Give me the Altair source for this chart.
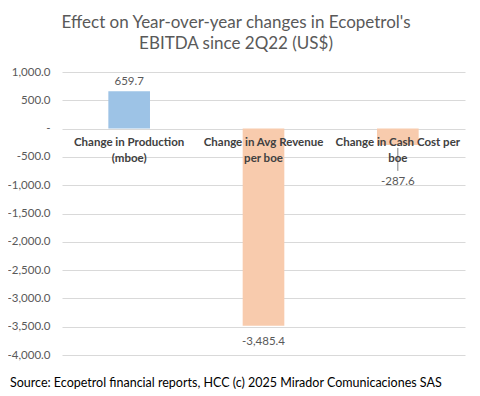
import altair as alt
import pandas as pd

categories = ["Change in Production\n(mboe)", "Change in Avg Revenue\nper boe", "Change in Cash Cost per\nboe"]
values = [659.7, -3485.4, -287.6]
y_ticks = [1000, 500, 0, -500, -1000, -1500, -2000, -2500, -3000, -3500, -4000]
title_lines = ["Effect on Year-over-year changes in Ecopetrol's", "EBITDA since 2Q22 (US$)"]
footer = "Source: Ecopetrol financial reports, HCC (c) 2025 Mirador Comunicaciones SAS"

FONT = "Lato"
df = pd.DataFrame({"category": categories, "value": values})

x = alt.X("category:N", sort=categories, axis=None,
          scale=alt.Scale(paddingInner=0.69, paddingOuter=0.345))
y = alt.Y("value:Q", title=None,
          scale=alt.Scale(domain=[-4000, 1000], nice=False, zero=False),
          axis=alt.Axis(values=y_ticks, grid=True, gridColor="#d9d9d9", gridWidth=1,
                        domain=False, ticks=False, labelPadding=12, labelOverlap=False,
                        tickCount=len(y_ticks),
                        labelFont=FONT, labelFontSize=11.5, labelColor="#595959",
                        labelExpr="datum.value == 0 ? '-' : replace(format(datum.value, ',.1f'), '\u2212', '-')"))

base = alt.Chart(df).transform_calculate(
    label="replace(format(datum.value, ',.1f'), '\u2212', '-')"
)

bars = base.mark_bar().encode(
    x=x, y=y, y2=alt.datum(0),
    color=alt.condition("datum.value > 0", alt.value("#9DC3E6"), alt.value("#F8CBAD")),
)

txt = dict(font=FONT, fontSize=11.5, color="#595959")
pos_labels = base.transform_filter("datum.value > 0").mark_text(baseline="bottom", dy=-4, **txt).encode(
    x=x, y=y, text="label:N")
big_neg = base.transform_filter("datum.value < -1000").mark_text(baseline="top", dy=10, **txt).encode(
    x=x, y=y, text="label:N")
small_neg = base.transform_filter("datum.value < 0 && datum.value >= -1000").mark_text(
    baseline="middle", dy=37, **txt).encode(x=x, y=y, text="label:N")
leader = base.transform_filter("datum.value < 0 && datum.value >= -1000").mark_rule(
    color="#7f7f7f", strokeWidth=1, yOffset=3, y2Offset=26).encode(
    x=x, y=y, y2="value:Q")

cat_labels = base.mark_text(baseline="top", dy=8, lineBreak="\n", lineHeight=16,
                            font=FONT, fontSize=11.5, fontWeight="bold", color="#404040").encode(
    x=x, y=alt.datum(0), text="category:N")

foot = alt.Chart(pd.DataFrame({"t": [footer]})).mark_text(
    align="left", baseline="middle", font=FONT, fontSize=12.5, color="#000000").encode(
    x=alt.value(-52), y=alt.value(311), text="t:N")

chart = alt.layer(bars, leader, pos_labels, big_neg, small_neg, cat_labels, foot).properties(
    width=403, height=283,
    autosize=alt.AutoSizeParams(type="none"),
    padding={"left": 54, "top": 64, "right": 5, "bottom": 36},
    title=alt.TitleParams(text=title_lines, font=FONT, fontSize=17, fontWeight="normal",
                          color="#595959", anchor="middle", frame="bounds", lineHeight=21, offset=13),
).configure_view(stroke=None)

chart.save("out.html", embed_options={"renderer": "svg", "actions": False})
